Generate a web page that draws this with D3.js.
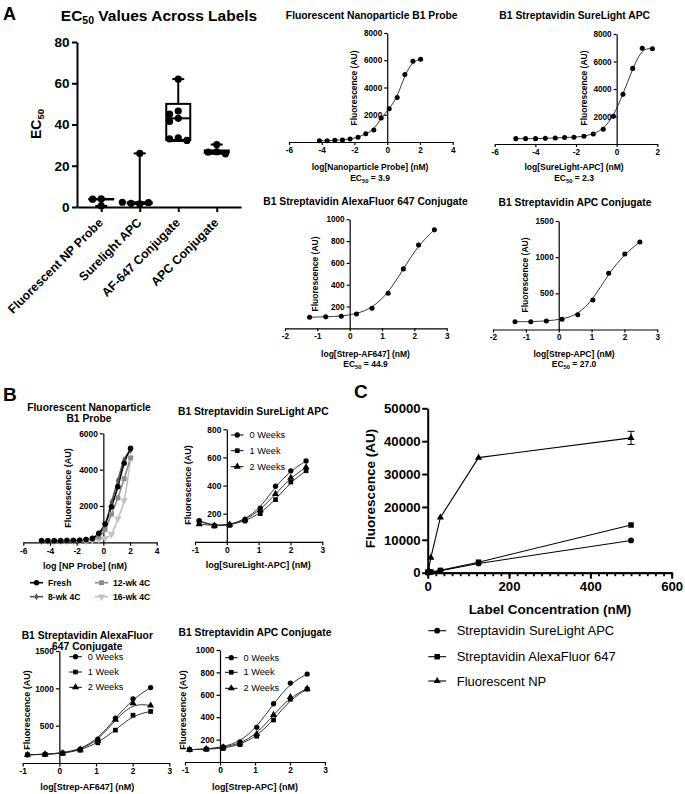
<!DOCTYPE html>
<html>
<head>
<meta charset="utf-8">
<script src="https://cdn.jsdelivr.net/npm/d3@7/dist/d3.min.js"></script>
<style>
html,body{margin:0;padding:0;background:#fff;}
svg{display:block;}
</style>
</head>
<body>
<svg id="fig" width="685" height="794" xmlns="http://www.w3.org/2000/svg"></svg>
<script>
// ================= DATA =================
// Panel A – box plot of EC50 values
const boxCategories = ["Fluorescent NP Probe", "Surelight APC", "AF-647 Conjugate", "APC Conjugate"];
const boxMin    = [0.5, 1.5, 32.0, 25.8];
const boxQ1     = [3.7, 1.7, 32.5, 26.4];
const boxMedian = [3.8, 2.0, 43.0, 26.8];
const boxQ3     = [3.9, 2.3, 50.0, 27.4];
const boxMax    = [3.9, 26.0, 62.0, 30.3];
const boxPoints = [
  [3.9, 3.8, 0.5],
  [1.5, 1.8, 2.1, 2.3, 26.0],
  [62.0, 46.5, 45.0, 43.0, 41.5, 33.5, 33.0, 32.3],
  [30.3, 26.8, 26.6, 25.8]
];
const boxYTicks = [0, 20, 40, 60, 80];

// Panel A – dose–response curves
const npLogConc = [-4.14, -3.67, -3.20, -2.73, -2.27, -1.78, -1.31, -0.82, -0.37, 0.12, 0.61, 1.08, 1.57, 2.04];
const npFluor   = [98, 98, 122, 146, 220, 342, 610, 880, 1760, 2440, 3270, 4950, 5930, 6080];
const slLogConc = [-4.96, -4.48, -3.99, -3.51, -3.02, -2.56, -2.10, -1.61, -1.15, -0.66, -0.16, 0.31, 0.79, 1.26, 1.76];
const slFluor   = [390, 390, 390, 410, 440, 480, 490, 560, 730, 1070, 2010, 3610, 5500, 6960, 6930];
const afLogConc = [-1.24, -0.74, -0.26, 0.21, 0.69, 1.19, 1.66, 2.13, 2.62];
const afFluor   = [102, 105, 111, 132, 184, 322, 545, 765, 903];
const apcLogConc = [-1.33, -0.85, -0.375, 0.10, 0.58, 1.04, 1.52, 2.01, 2.47];
const apcFluor   = [108, 108, 117, 141, 205, 408, 777, 1044, 1210];
const ec50Values = ["3.9", "2.3", "44.9", "27.0"];

// Panel B – stability
const npAgeLabels = ["Fresh", "8-wk 4C", "12-wk 4C", "16-wk 4C"];
const npAgeLog  = [-4.63, -4.16, -3.68, -3.20, -2.73, -2.25, -1.77, -1.30, -0.82, -0.34, 0.13, 0.61, 1.09, 1.56, 2.04];
const npFresh   = [90, 90, 90, 90, 95, 100, 110, 150, 220, 500, 1000, 1960, 3060, 4350, 5170];
const np8wk     = [90, 90, 90, 90, 95, 100, 110, 140, 200, 450, 950, 2200, 3400, 4550, 5050];
const np12wk    = [80, 80, 80, 80, 85, 90, 100, 120, 160, 300, 700, 1550, 2450, 3500, 4650];
const np16wk    = [60, 60, 60, 60, 60, 65, 70, 80, 100, 150, 220, 450, 1300, 2300, 4600];

const weekLabels = ["0 Weeks", "1 Week", "2 Weeks"];
const agingLog = [-0.87, -0.39, 0.09, 0.57, 1.05, 1.53, 2.01, 2.49];
const slWeek0 = [150, 115, 120, 160, 240, 395, 505, 575];
const slWeek1 = [145, 112, 118, 148, 200, 300, 425, 505];
const slWeek2 = [125, 115, 122, 155, 225, 340, 455, 530];
const afWeek0 = [110, 118, 135, 185, 320, 600, 860, 1010];
const afWeek1 = [110, 115, 128, 170, 270, 440, 640, 690];
const afWeek2 = [110, 116, 132, 180, 300, 580, 800, 770];
const apcWeek0 = [110, 115, 135, 180, 310, 520, 705, 785];
const apcWeek1 = [110, 115, 120, 155, 230, 375, 560, 650];
const apcWeek2 = [110, 115, 130, 165, 250, 420, 580, 655];

// Panel C – linear concentration
const cSeriesLabels = ["Streptavidin SureLight APC", "Streptavidin AlexaFluor 647", "Fluorescent NP"];
const labelConc  = [0.49, 1.95, 7.8, 31.25, 125, 500];
const cSureLight = [50, 100, 200, 600, 2800, 9800];
const cAF647     = [80, 120, 200, 700, 3200, 14500];
const cNP        = [200, 800, 4600, 16800, 35000, 41000];
const cNPerr     = [0, 0, 0, 0, 0, 2000];
const cXTicks = [0, 200, 400, 600];
const cYTicks = [0, 10000, 20000, 30000, 40000, 50000];

// ================= HELPERS =================
const svg = d3.select("#fig");
const FONT = '"Liberation Sans", Arial, Helvetica, sans-serif';
svg.attr("font-family", FONT);

function label(g, x, y, str, size, o = {}) {
  const t = g.append("text")
    .attr("x", x).attr("y", y)
    .attr("font-size", size)
    .attr("font-weight", o.weight || "bold")
    .attr("text-anchor", o.anchor || "middle")
    .attr("dominant-baseline", "central")
    .attr("fill", "#000");
  if (o.rotate) t.attr("transform", `rotate(${o.rotate},${x},${y})`);
  if (o.sub) {
    t.append("tspan").text(o.sub[0]);
    t.append("tspan").attr("font-size", size * 0.68).attr("dy", size * 0.3).text(o.sub[1]);
    t.append("tspan").attr("dy", -size * 0.3).text(o.sub[2]);
  } else t.text(str);
  return t;
}

function styleAxis(sel, sw, fs) {
  sel.attr("font-family", FONT).attr("font-size", fs);
  sel.select(".domain").attr("stroke", "#000").attr("stroke-width", sw);
  sel.selectAll(".tick line").attr("stroke", "#000").attr("stroke-width", sw);
  sel.selectAll(".tick text").attr("fill", "#000").attr("font-weight", "bold").attr("font-size", fs);
}

const symbolOf = {
  circle: d3.symbolCircle, square: d3.symbolSquare, triangle: d3.symbolTriangle,
  diamond: d3.symbolDiamond, triDown: d3.symbolTriangle
};
function drawSymbol(g, kind, cx, cy, size, color) {
  g.append("path").attr("d", d3.symbol(symbolOf[kind], size)())
    .attr("transform", `translate(${cx},${cy})` + (kind === "triDown" ? " rotate(180)" : ""))
    .attr("fill", color).attr("stroke", "none");
}

function dosePanel(c) {
  const g = svg.append("g");
  const x = d3.scaleLinear().domain(c.xDomain).range(c.xRange);
  const y = d3.scaleLinear().domain(c.yDomain).range(c.yRange);
  const gx = g.append("g").attr("transform", `translate(0,${c.yRange[0]})`)
    .call(d3.axisBottom(x).tickValues(c.xTicks).tickSize(c.tick).tickSizeOuter(0).tickPadding(c.pad).tickFormat(d => String(d)));
  styleAxis(gx, c.sw, c.tickFont);
  const gy = g.append("g").attr("transform", `translate(${x(0)},0)`)
    .call(d3.axisLeft(y).tickValues(c.yTicks).tickSize(c.tick).tickSizeOuter(0).tickPadding(c.pad).tickFormat(d => String(d)));
  styleAxis(gy, c.sw, c.tickFont);

  c.series.forEach(s => {
    const pts = s.x.map((v, i) => [x(v), y(s.y[i])]);
    g.append("path").attr("d", d3.line().curve(s.curve || d3.curveBasis)(pts))
      .attr("fill", "none").attr("stroke", s.line || "#222").attr("stroke-width", s.lw || 0.9);
  });
  c.series.forEach(s => {
    s.x.forEach((v, i) => drawSymbol(g, s.sym, x(v), y(s.y[i]), s.size || 20, s.color || "#000"));
  });

  c.title.forEach((t, i) => label(g, c.titlePos[0], c.titlePos[1] + i * 11.7, t, c.titleFont));
  label(g, c.yLabelPos[0], c.yLabelPos[1], "Fluorescence (AU)", c.labelFont, { rotate: -90 });
  label(g, c.xLabelPos[0], c.xLabelPos[1], c.xLabel, c.labelFont);
  if (c.ec50) label(g, c.xLabelPos[0], c.xLabelPos[1] + c.ecGap, null, c.labelFont, { sub: ["EC", "50", " = " + c.ec50] });

  if (c.legend) {
    const L = c.legend;
    const rows = L.y.length;
    L.items.forEach((it, i) => {
      const xx = L.x[Math.floor(i / rows)];
      const yy = L.y[i % rows];
      g.append("line").attr("x1", xx).attr("x2", xx + L.len).attr("y1", yy).attr("y2", yy)
        .attr("stroke", it.color).attr("stroke-width", it.lw || 1.2);
      drawSymbol(g, it.sym, xx + L.len / 2, yy, it.size || 20, it.color);
      label(g, xx + L.len + L.gap, yy, it.text, L.font, { anchor: "start", weight: L.weight });
    });
  }
  return { g, x, y };
}

// ================= PANEL LETTERS =================
label(svg, 3, 13.5, "A", 18, { anchor: "start" });
label(svg, 3, 394, "B", 19, { anchor: "start" });
label(svg, 354, 391, "C", 19, { anchor: "start" });

// ================= PANEL A: BOX PLOT =================
(function () {
  const g = svg.append("g");
  const x = d3.scalePoint().domain(boxCategories).range([77, 241]).padding(0.63);
  const y = d3.scaleLinear().domain([0, 80]).range([207, 42]);
  const gx = g.append("g").attr("transform", "translate(0,207)")
    .call(d3.axisBottom(x).tickSize(5).tickSizeOuter(0).tickFormat(""));
  styleAxis(gx, 2, 13);
  const gy = g.append("g").attr("transform", "translate(77,0)")
    .call(d3.axisLeft(y).tickValues(boxYTicks).tickSize(5).tickSizeOuter(0).tickPadding(2.5));
  styleAxis(gy, 2, 13.5);

  boxCategories.forEach((cat, i) => {
    const cx = x(cat);
    const hw = 12, cw = 6;
    const lineAttr = s => s.attr("stroke", "#000").attr("stroke-width", 2).attr("fill", "none");
    lineAttr(g.append("line").attr("x1", cx).attr("x2", cx).attr("y1", y(boxMin[i])).attr("y2", y(boxQ1[i])));
    lineAttr(g.append("line").attr("x1", cx).attr("x2", cx).attr("y1", y(boxQ3[i])).attr("y2", y(boxMax[i])));
    lineAttr(g.append("line").attr("x1", cx - cw).attr("x2", cx + cw).attr("y1", y(boxMin[i])).attr("y2", y(boxMin[i])));
    lineAttr(g.append("line").attr("x1", cx - cw).attr("x2", cx + cw).attr("y1", y(boxMax[i])).attr("y2", y(boxMax[i])));
    lineAttr(g.append("rect").attr("x", cx - hw).attr("width", 2 * hw)
      .attr("y", y(boxQ3[i])).attr("height", Math.max(0.01, y(boxQ1[i]) - y(boxQ3[i]))));
    lineAttr(g.append("line").attr("x1", cx - hw).attr("x2", cx + hw).attr("y1", y(boxMedian[i])).attr("y2", y(boxMedian[i])));
    const r = 3.6, placed = [];
    boxPoints[i].forEach(v => {
      const py = y(v);
      for (const k of [0, -1, 1, -2, 2, -3, 3]) {
        const px = k * (2 * r + 1.5);
        if (placed.every(p => Math.hypot(p[0] - px, p[1] - py) >= 2 * r - 0.5)) {
          placed.push([px, py]);
          g.append("circle").attr("cx", cx + px).attr("cy", py).attr("r", r).attr("fill", "#000");
          break;
        }
      }
    });
    g.append("text").attr("transform", `translate(${cx + 2.5},${223.5}) rotate(-45)`)
      .attr("text-anchor", "end").attr("font-size", 12.3).attr("font-weight", "bold")
      .attr("fill", "#000").text(cat);
  });
  label(g, 159, 15, null, 15.5, { sub: ["EC", "50", " Values Across Labels"] });
  label(g, 36, 124, null, 14, { rotate: -90, sub: ["EC", "50", ""] });
})();

// ================= PANEL A: DOSE-RESPONSE =================
const aStyle = { tick: 3, pad: 2, sw: 1.2, tickFont: 8.2, titleFont: 10.3, labelFont: 8.5, ecGap: 11.6 };

dosePanel(Object.assign({}, aStyle, {
  xDomain: [-6, 4], xRange: [289, 452.7], yDomain: [0, 8000], yRange: [142, 33],
  xTicks: [-6, -4, -2, 0, 2, 4], yTicks: [2000, 4000, 6000, 8000],
  series: [{ x: npLogConc, y: npFluor, sym: "circle", size: 20 }],
  title: ["Fluorescent Nanoparticle B1 Probe"], titlePos: [371.7, 15.5],
  yLabelPos: [354.3, 88], xLabel: "log[Nanoparticle Probe] (nM)", xLabelPos: [370, 166.7], ec50: ec50Values[0]
}));

dosePanel(Object.assign({}, aStyle, {
  xDomain: [-6, 2], xRange: [494.7, 657.3], yDomain: [0, 8000], yRange: [144, 34],
  xTicks: [-6, -4, -2, 0, 2], yTicks: [2000, 4000, 6000, 8000],
  series: [{ x: slLogConc, y: slFluor, sym: "circle", size: 20 }],
  title: ["B1 Streptavidin SureLight APC"], titlePos: [574.7, 15.7],
  yLabelPos: [584, 88], xLabel: "log[SureLight-APC] (nM)", xLabelPos: [574, 166.7], ec50: ec50Values[1]
}));

dosePanel(Object.assign({}, aStyle, {
  xDomain: [-2, 3], xRange: [285, 446.7], yDomain: [0, 1000], yRange: [328.3, 219.3],
  xTicks: [-2, -1, 0, 1, 2, 3], yTicks: [200, 400, 600, 800, 1000],
  series: [{ x: afLogConc, y: afFluor, sym: "circle", size: 20 }],
  title: ["B1 Streptavidin AlexaFluor 647 Conjugate"], titlePos: [365.5, 201.7],
  yLabelPos: [315, 274], xLabel: "log[Strep-AF647] (nM)", xLabelPos: [365.5, 353.5], ec50: ec50Values[2], ecGap: 10.5
}));

dosePanel(Object.assign({}, aStyle, {
  xDomain: [-2, 3], xRange: [493, 657.3], yDomain: [0, 1500], yRange: [329.5, 221],
  xTicks: [-2, -1, 0, 1, 2, 3], yTicks: [500, 1000, 1500],
  series: [{ x: apcLogConc, y: apcFluor, sym: "circle", size: 20 }],
  title: ["B1 Streptavidin APC Conjugate"], titlePos: [575, 202.7],
  yLabelPos: [524.7, 275], xLabel: "log[Strep-APC] (nM)", xLabelPos: [574, 353.5], ec50: ec50Values[3], ecGap: 10.5
}));

// ================= PANEL B =================
const bStyle = { tick: 3.5, pad: 2, sw: 1.2, tickFont: 8.4, titleFont: 10.3, labelFont: 9 };
const npColors = ["#000000", "#555555", "#8c8c8c", "#c2c2c2"];
const npSyms = ["circle", "diamond", "square", "triDown"];

dosePanel(Object.assign({}, bStyle, {
  xDomain: [-6, 4], xRange: [23.3, 156.7], yDomain: [0, 6000], yRange: [542.3, 433.3],
  xTicks: [-6, -4, -2, 0, 2, 4], yTicks: [2000, 4000, 6000],
  series: [np16wk, np12wk, np8wk, npFresh].map((vals, j) => {
    const k = 3 - j;
    return { x: npAgeLog, y: vals, sym: npSyms[k], color: npColors[k], line: npColors[k], lw: 1.6,
             size: k === 1 ? 14 : 24, curve: d3.curveMonotoneX };
  }),
  title: ["Fluorescent Nanoparticle", "B1 Probe"], titlePos: [89, 407],
  yLabelPos: [68, 488], xLabel: "log [NP Probe] (nM)", xLabelPos: [85, 565.7],
  legend: {
    items: npAgeLabels.map((t, k) => ({ text: t, color: npColors[k], sym: npSyms[k], size: k === 1 ? 14 : 24, lw: 1.6 })),
    x: [30, 95], y: [582.7, 596.7], len: 13, gap: 5, font: 8.6, weight: "bold"
  }
}));

const weekSyms = ["circle", "square", "triangle"];
function weekSeries(arrs) {
  return arrs.map((vals, k) => ({ x: agingLog, y: vals, sym: weekSyms[k], size: 22 }));
}
function weekLegend(x, ys) {
  return {
    items: weekLabels.map((t, k) => ({ text: t, color: "#000", sym: weekSyms[k], size: 22, lw: 1 })),
    x: [x], y: ys, len: 12.5, gap: 6, font: 9.2, weight: "normal"
  };
}

dosePanel(Object.assign({}, bStyle, {
  xDomain: [-1, 3], xRange: [195, 322.3], yDomain: [0, 800], yRange: [541.8, 429.3],
  xTicks: [-1, 0, 1, 2, 3], yTicks: [200, 400, 600, 800],
  series: weekSeries([slWeek0, slWeek1, slWeek2]),
  title: ["B1 Streptavidin SureLight APC"], titlePos: [253.3, 411.7],
  yLabelPos: [188.3, 485], xLabel: "log[SureLight-APC] (nM)", xLabelPos: [258.3, 565],
  legend: weekLegend(231, [435, 450.7, 466.7])
}));

dosePanel(Object.assign({}, bStyle, {
  xDomain: [-1, 3], xRange: [22.7, 169.3], yDomain: [0, 1500], yRange: [763, 651],
  xTicks: [-1, 0, 1, 2, 3], yTicks: [500, 1000, 1500],
  series: weekSeries([afWeek0, afWeek1, afWeek2]),
  title: ["B1 Streptavidin AlexaFluor", "647 Conjugate"], titlePos: [87.3, 635],
  yLabelPos: [26.7, 710], xLabel: "log[Strep-AF647] (nM)", xLabelPos: [87.3, 786.7],
  legend: weekLegend(69.3, [656.7, 672, 687.3])
}));

dosePanel(Object.assign({}, bStyle, {
  xDomain: [-1, 3], xRange: [185, 325], yDomain: [0, 1000], yRange: [762, 650],
  xTicks: [-1, 0, 1, 2, 3], yTicks: [200, 400, 600, 800, 1000],
  series: weekSeries([apcWeek0, apcWeek1, apcWeek2]),
  title: ["B1 Streptavidin APC Conjugate"], titlePos: [255, 632],
  yLabelPos: [183.3, 710], xLabel: "log[Strep-APC] (nM)", xLabelPos: [255, 787],
  legend: weekLegend(225, [657.7, 672.3, 688.3])
}));

// ================= PANEL C =================
(function () {
  const g = svg.append("g");
  const x = d3.scaleLinear().domain([0, 600]).range([427.7, 671.7]);
  const y = d3.scaleLinear().domain([0, 50000]).range([572.7, 408.3]);
  const gMinor = g.append("g").attr("transform", "translate(0,572.7)")
    .call(d3.axisBottom(x).tickValues(d3.range(0, 601, 20)).tickSize(3.5).tickSizeOuter(0).tickFormat(""));
  styleAxis(gMinor, 1.8, 13);
  const gx = g.append("g").attr("transform", "translate(0,572.7)")
    .call(d3.axisBottom(x).tickValues(cXTicks).tickSize(6).tickSizeOuter(0).tickPadding(3));
  styleAxis(gx, 2, 13.2);
  const gy = g.append("g").attr("transform", "translate(427.7,0)")
    .call(d3.axisLeft(y).tickValues(cYTicks).tickSize(5.5).tickSizeOuter(0).tickPadding(1.5).tickFormat(d => String(d)));
  styleAxis(gy, 2, 13.2);

  const syms = ["circle", "square", "triangle"];
  const sizes = [26, 30, 22];
  [cSureLight, cAF647, cNP].forEach((vals, k) => {
    const pts = labelConc.map((c, i) => [x(c), y(vals[i])]);
    g.append("path").attr("d", d3.line()(pts)).attr("fill", "none").attr("stroke", "#000").attr("stroke-width", 1.1);
    pts.forEach(p => drawSymbol(g, syms[k], p[0], p[1], sizes[k], "#000"));
  });
  labelConc.forEach((c, i) => {
    if (!cNPerr[i]) return;
    const xx = x(c), y1 = y(cNP[i] + cNPerr[i]), y2 = y(cNP[i] - cNPerr[i]);
    g.append("line").attr("x1", xx).attr("x2", xx).attr("y1", y1).attr("y2", y2).attr("stroke", "#000").attr("stroke-width", 1);
    [y1, y2].forEach(yy => g.append("line").attr("x1", xx - 3.5).attr("x2", xx + 3.5).attr("y1", yy).attr("y2", yy)
      .attr("stroke", "#000").attr("stroke-width", 1));
  });

  label(g, 370, 488.5, "Fluorescence (AU)", 13.5, { rotate: -90 });
  label(g, 550, 609.3, "Label Concentration (nM)", 13.5);
  const legY = [630.7, 656.7, 681];
  cSeriesLabels.forEach((t, k) => {
    g.append("line").attr("x1", 428.3).attr("x2", 446).attr("y1", legY[k]).attr("y2", legY[k])
      .attr("stroke", "#000").attr("stroke-width", 1.1);
    drawSymbol(g, syms[k], 437.2, legY[k], sizes[k], "#000");
    label(g, 456.7, legY[k], t, 13, { anchor: "start", weight: "normal" });
  });
})();
</script>
</body>
</html>
